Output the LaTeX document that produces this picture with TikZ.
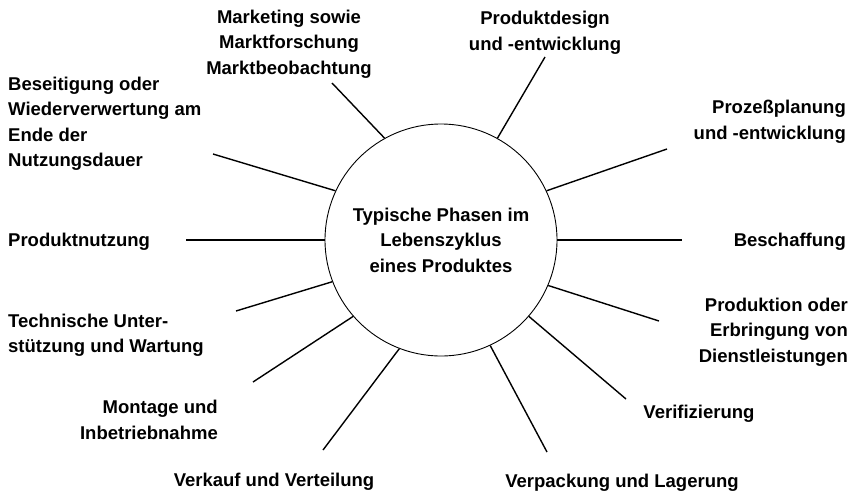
\documentclass[tikz,border=0pt]{standalone}
\usepackage{fontspec}
\setmainfont{Liberation Sans}
\begin{document}
\begin{tikzpicture}[x=1pt,y=-1pt,
  lbl/.style={inner sep=0pt,font=\fontsize{18.5}{25.5}\selectfont\bfseries},
  spoke/.style={line width=1.4pt},
  hub/.style={circle,draw,line width=0.9pt,minimum size=232pt,inner sep=0pt,align=center,
    font=\fontsize{18.5}{25.5}\selectfont\bfseries}]
\useasboundingbox (0,0) rectangle (858,496);
% central circle
\node[hub] (c) at (441,240) {Typische Phasen im\\Lebenszyklus\\eines Produktes};
% phase labels
\node[lbl,align=center] (l1) at (289,44) {Marketing sowie\\Marktforschung\\Marktbeobachtung};
\node[lbl,align=center] (l2) at (545,33) {Produktdesign\\und -entwicklung};
\node[lbl,align=right,anchor=east] (l3) at (846,122) {Prozeßplanung\\und -entwicklung};
\node[lbl,anchor=east] (l4) at (846,242) {Beschaffung};
\node[lbl,align=right,anchor=east] (l5) at (848,332) {Produktion oder\\Erbringung von\\Dienstleistungen};
\node[lbl] (l6) at (699,414) {Verifizierung};
\node[lbl] (l7) at (622,483) {Verpackung und Lagerung};
\node[lbl] (l8) at (274,482) {Verkauf und Verteilung};
\node[lbl,align=right,anchor=east] (l9) at (218,420) {Montage und\\Inbetriebnahme};
\node[lbl,align=left,anchor=west] (l10) at (8,335) {Technische Unter-\\stützung und Wartung};
\node[lbl,anchor=west] (l11) at (8,242) {Produktnutzung};
\node[lbl,align=left,anchor=west] (l12) at (8,124) {Beseitigung oder\\Wiederverwertung am\\Ende der\\Nutzungsdauer};
% free ends of the spokes
\coordinate (e1) at (332,83);
\coordinate (e2) at (545,57);
\coordinate (e3) at (667,149);
\coordinate (e4) at (682,240);
\coordinate (e5) at (659,321);
\coordinate (e6) at (626,399);
\coordinate (e7) at (547,452);
\coordinate (e8) at (323,450);
\coordinate (e9) at (253,382);
\coordinate (e10) at (236,311);
\coordinate (e11) at (186,240);
\coordinate (e12) at (213,154);
% spokes
\draw[spoke] (c.119.4) -- (e1);
\draw[spoke] (c.61.9) -- (e2);
\draw[spoke] (c.25.9) -- (e3);
\draw[spoke] (c.0) -- (e4);
\draw[spoke] (c.-23.3) -- (e5);
\draw[spoke] (c.-41.2) -- (e6);
\draw[spoke] (c.-65) -- (e7);
\draw[spoke] (c.-111.5) -- (e8);
\draw[spoke] (c.221.9) -- (e9);
\draw[spoke] (c.201.5) -- (e10);
\draw[spoke] (c.180) -- (e11);
\draw[spoke] (c.155.2) -- (e12);
\end{tikzpicture}
\end{document}
